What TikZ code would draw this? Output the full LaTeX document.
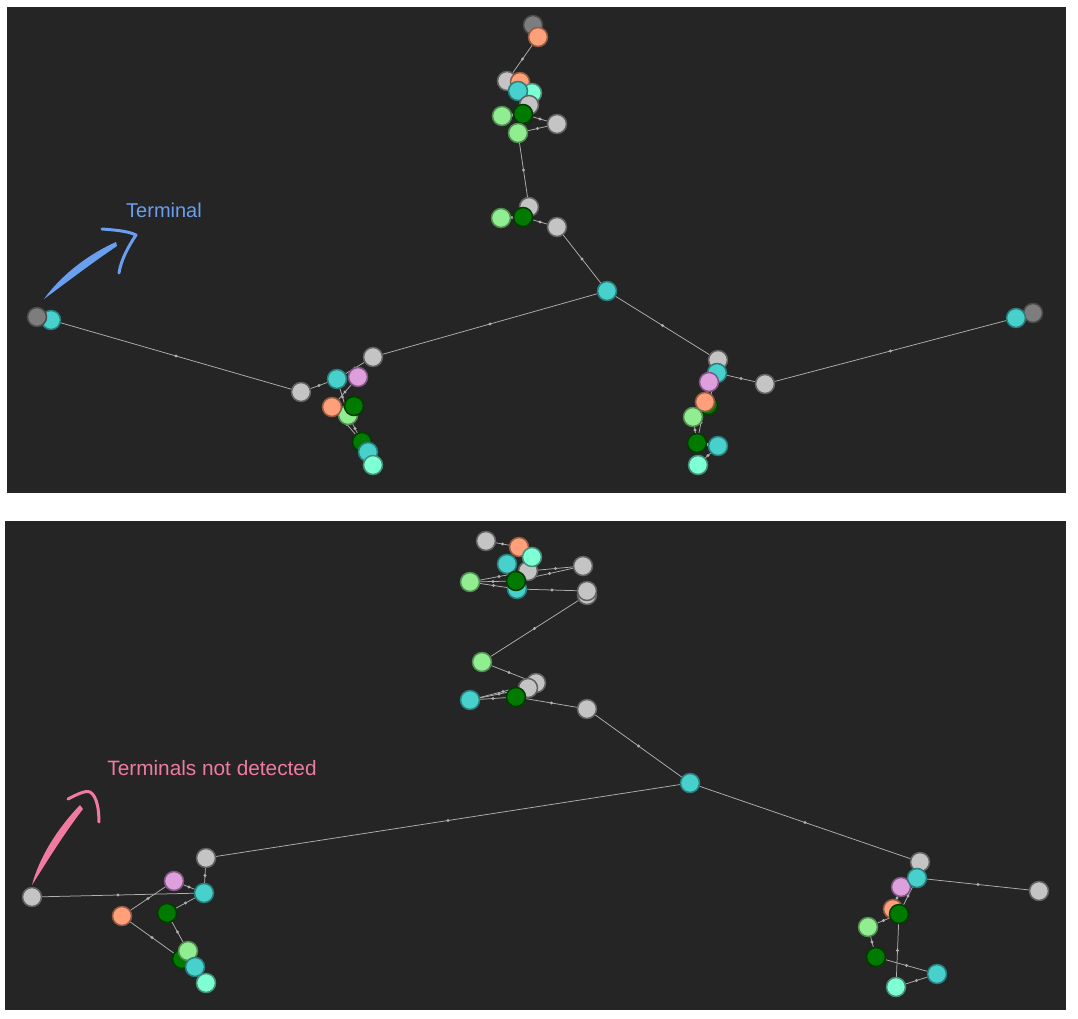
\documentclass[tikz,border=0pt]{standalone}
\usepackage{fontspec}
\setmainfont{Liberation Sans}
\usetikzlibrary{arrows.meta}
\definecolor{cbg}{HTML}{252525}
\definecolor{cedge}{HTML}{B0B0B0}
\definecolor{cgray}{HTML}{C4C4C4}\definecolor{cgrayb}{HTML}{626262}
\definecolor{cdgray}{HTML}{7D7D7D}\definecolor{cdgrayb}{HTML}{4A4A4A}
\definecolor{ccyan}{HTML}{48D1CC}\definecolor{ccyanb}{HTML}{287F7B}
\definecolor{csalmon}{HTML}{FFA07A}\definecolor{csalmonb}{HTML}{955A43}
\definecolor{caqua}{HTML}{7FFFD4}\definecolor{caquab}{HTML}{45907A}
\definecolor{clgreen}{HTML}{90EE90}\definecolor{clgreenb}{HTML}{528C52}
\definecolor{cdgreen}{HTML}{007A00}\definecolor{cdgreenb}{HTML}{003C00}
\definecolor{cplum}{HTML}{DDA0DD}\definecolor{cplumb}{HTML}{835583}
\definecolor{cblue}{HTML}{6A9FEF}
\definecolor{cpink}{HTML}{F07AA0}
\pgfdeclarelayer{bg}\pgfdeclarelayer{edges}
\pgfsetlayers{bg,edges,main}
\newcommand\ed[2]{\draw[edge] (#1) -- node[edot]{} (#2);}
\begin{document}
\begin{tikzpicture}[x=1pt,y=-1pt,
  nd/.style={circle,minimum size=19pt,inner sep=0pt,line width=1.5pt},
  ngray/.style={nd,fill=cgray,draw=cgrayb},
  ndgray/.style={nd,fill=cdgray,draw=cdgrayb},
  ncyan/.style={nd,fill=ccyan,draw=ccyanb},
  nsalmon/.style={nd,fill=csalmon,draw=csalmonb},
  naqua/.style={nd,fill=caqua,draw=caquab},
  nlgreen/.style={nd,fill=clgreen,draw=clgreenb},
  ndgreen/.style={nd,fill=cdgreen,draw=cdgreenb},
  nplum/.style={nd,fill=cplum,draw=cplumb},
  edge/.style={draw=cedge,line width=0.75pt},
  edot/.style={circle,fill=cedge,inner sep=0pt,minimum size=3.2pt},
  lbl/.style={inner sep=0pt,font=\fontsize{20}{24}\selectfont}]
\begin{pgfonlayer}{bg}
\fill[white] (0,0) rectangle (1078,1019);
\fill[cbg] (7,7) rectangle (1066,493);
\fill[cbg] (5,521) rectangle (1066,1010);
\end{pgfonlayer}
\useasboundingbox (0,0) rectangle (1078,1019);
% ---------- top panel ----------
\node[ndgray] (a1) at (533,25) {};
\node[nsalmon] (a2) at (538,37) {};
\node[ngray] (a3) at (507,81) {};
\node[nsalmon] (a4) at (520,82) {};
\node[naqua] (a5) at (532,93) {};
\node[ncyan] (a6) at (518,91) {};
\node[ngray] (a7) at (529,105) {};
\node[nlgreen] (a9) at (502,116) {};
\node[ndgreen] (a8) at (523,114) {};
\node[nlgreen] (a10) at (518,133) {};
\node[ngray] (a11) at (557,124) {};
\node[ngray] (b1) at (529,207) {};
\node[nlgreen] (b2) at (501,218) {};
\node[ndgreen] (b3) at (523,217) {};
\node[ngray] (b4) at (557,227) {};
\node[ncyan] (c0) at (607,291) {};
\node[ngray] (L1) at (301,392) {};
\node[ngray] (L2) at (373,357) {};
\node[ncyan] (L3) at (337,379) {};
\node[nplum] (L4) at (358,377) {};
\node[nlgreen] (L6) at (348,415) {};
\node[nsalmon] (L5) at (332,407) {};
\node[ndgreen] (L7) at (354,406) {};
\node[ndgreen] (L8) at (362,442) {};
\node[ncyan] (L9) at (368,452) {};
\node[naqua] (L10) at (373,465) {};
\node[ncyan] (T2) at (51,320) {};
\node[ndgray] (T1) at (37,317) {};
\node[ngray] (R1) at (718,360) {};
\node[ncyan] (R2) at (717,373) {};
\node[ngray] (R3) at (765,384) {};
\node[nplum] (R4) at (709,382) {};
\node[ndgreen] (R5) at (708,405) {};
\node[nsalmon] (R6) at (705,402) {};
\node[nlgreen] (R7) at (693,417) {};
\node[ndgreen] (R8) at (697,443) {};
\node[ncyan] (R9) at (718,446) {};
\node[naqua] (R10) at (698,465) {};
\node[ndgray] (E2) at (1033,313) {};
\node[ncyan] (E1) at (1016,318) {};
% ---------- bottom panel ----------
\node[ngray] (m1) at (486,541) {};
\node[nsalmon] (m2) at (519,547) {};
\node[ncyan] (m4) at (507,564) {};
\node[ngray] (m5) at (528,571) {};
\node[naqua] (m3) at (532,557) {};
\node[ngray] (m6) at (583,566) {};
\node[nlgreen] (m7) at (470,582) {};
\node[ncyan] (m8) at (517,589) {};
\node[ndgreen] (m9) at (516,581) {};
\node[ngray] (m10) at (587,595) {};
\node[ngray] (m11) at (587,591) {};
\node[nlgreen] (n1) at (482,662) {};
\node[ngray] (n2) at (536,683) {};
\node[ngray] (n3) at (528,688) {};
\node[ncyan] (n4) at (470,700) {};
\node[ndgreen] (n5) at (516,697) {};
\node[ngray] (n6) at (587,709) {};
\node[ncyan] (c1) at (690,783) {};
\node[ngray] (P1) at (32,897) {};
\node[ngray] (P2) at (206,858) {};
\node[nplum] (P3) at (174,881) {};
\node[ncyan] (P4) at (204,893) {};
\node[nsalmon] (P5) at (122,916) {};
\node[ndgreen] (P6) at (167,913) {};
\node[ndgreen] (P8) at (182,959) {};
\node[nlgreen] (P7) at (188,951) {};
\node[ncyan] (P9) at (195,967) {};
\node[naqua] (P10) at (206,983) {};
\node[ngray] (Q1) at (920,862) {};
\node[nplum] (Q3) at (901,887) {};
\node[ncyan] (Q2) at (917,878) {};
\node[nsalmon] (Q4) at (893,909) {};
\node[ndgreen] (Q5) at (899,914) {};
\node[nlgreen] (Q6) at (868,927) {};
\node[ndgreen] (Q7) at (876,957) {};
\node[ncyan] (Q8) at (937,974) {};
\node[naqua] (Q9) at (896,987) {};
\node[ngray] (Q10) at (1039,891) {};
% ---------- edges ----------
\begin{pgfonlayer}{edges}
\ed{a2}{a3}\ed{a11}{a8}\ed{a11}{a10}\ed{a8}{a9}\ed{a10}{b1}
\ed{b4}{b3}\ed{b3}{b2}\ed{b4}{c0}\ed{c0}{L2}\ed{c0}{R1}
\ed{L1}{T2}\ed{L1}{L3}\ed{L3}{L2}\ed{L3}{L6}\ed{L4}{L5}\ed{L6}{L8}\ed{L5}{L8}\ed{L8}{L9}
\ed{R2}{R3}\ed{R3}{E1}\ed{R4}{R6}\ed{R2}{R5}\ed{R7}{R8}\ed{R6}{R8}\ed{R8}{R9}\ed{R9}{R10}
\ed{m1}{m2}\ed{m6}{m5}\ed{m6}{m9}\ed{m11}{m8}\ed{m7}{m5}\ed{m7}{m9}\ed{m7}{m8}
\ed{m10}{n1}\ed{n1}{n2}\ed{n4}{n3}\ed{n4}{n2}\ed{n4}{n5}\ed{n6}{n5}\ed{n6}{c1}
\ed{c1}{P2}\ed{c1}{Q1}
\ed{P1}{P4}\ed{P3}{P4}\ed{P2}{P4}\ed{P5}{P3}\ed{P4}{P6}\ed{P6}{P7}\ed{P5}{P8}\ed{P9}{P10}
\ed{Q2}{Q10}\ed{Q2}{Q3}\ed{Q2}{Q5}\ed{Q3}{Q4}\ed{Q5}{Q6}\ed{Q6}{Q7}\ed{Q5}{Q9}\ed{Q7}{Q8}\ed{Q8}{Q9}
\end{pgfonlayer}
% ---------- annotations ----------
\node[lbl,text=cblue] (t1) at (164,210) {Terminal};
\fill[cblue] (44,299) .. controls (60,277) and (85,256) .. (116,242) -- (117,246) .. controls (89,265) and (63,285) .. (44,299) -- cycle;
\draw[cblue,line width=3pt,line cap=round,line join=round] (102,229) .. controls (115,230) and (128,231) .. (136,235) .. controls (128,247) and (121,260) .. (119,273);
\node[lbl,text=cpink,font=\fontsize{20.8}{25}\selectfont] (t2) at (212,768) {Terminals not detected};
\fill[cpink] (32,885) .. controls (39,858) and (57,829) .. (80,805) -- (83,809) .. controls (63,835) and (46,863) .. (32,885) -- cycle;
\draw[cpink,line width=3pt,line cap=round,line join=round] (68,799) .. controls (76,795) and (85,790) .. (90,792) .. controls (97,796) and (99,810) .. (99,822);
\end{tikzpicture}
\end{document}
